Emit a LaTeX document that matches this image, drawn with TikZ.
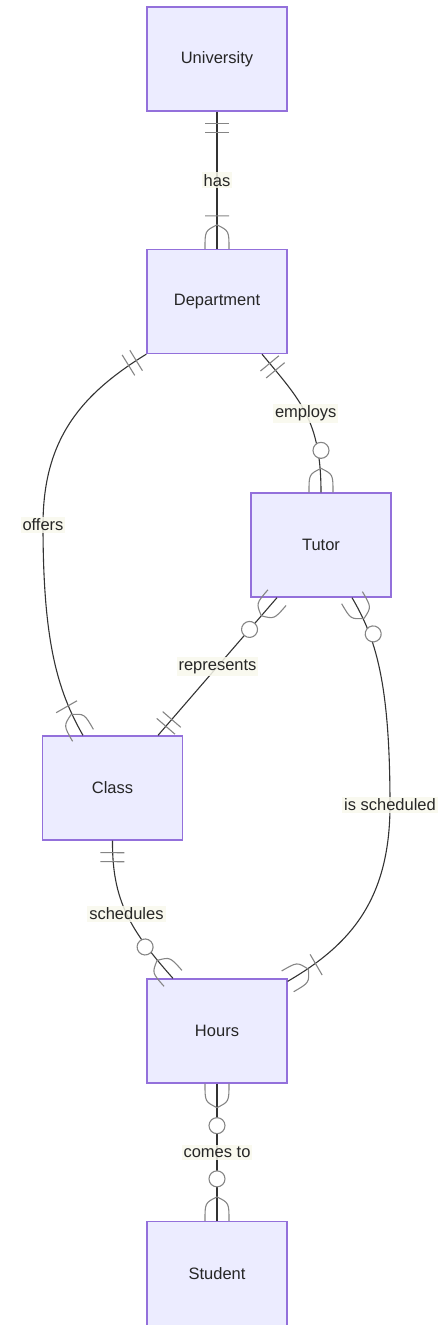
\documentclass[tikz,border=0pt]{standalone}
\usepackage{fontspec}
\setmainfont{Liberation Sans}
\usetikzlibrary{decorations.markings}
\definecolor{entityfill}{HTML}{ECECFF}
\definecolor{entityline}{HTML}{9370DB}
\definecolor{relline}{HTML}{333333}
\definecolor{markline}{HTML}{858585}
\definecolor{lblfill}{HTML}{F8F8EC}
\begin{document}
\begin{tikzpicture}[x=1pt,y=-1pt]
		\tikzstyle{Entity} = [rectangle, minimum width=140pt, minimum height=104pt, text centered, draw=entityline, line width=1.3pt, fill=entityfill, text=black!85, font=\fontsize{16.5}{20}\selectfont]
		\tikzstyle{Label} = [fill=lblfill, fill opacity=0.85, text opacity=1, inner sep=2pt, text=black!85, font=\fontsize{16.5}{20}\selectfont]
		\tikzstyle{rel} = [line width=1.1pt, draw=relline]
		\tikzstyle{Marker} = [line width=1.1pt, draw=markline]
		\tikzstyle{oneOnlyStart} = [postaction={decorate, decoration={markings, mark=at position 0 with {\draw[Marker] (12,-12) -- (12,12) (21,-12) -- (21,12);}}}]
		\tikzstyle{oneOnlyEnd} = [postaction={decorate, decoration={markings, mark=at position 1 with {\draw[Marker] (-12,-12) -- (-12,12) (-21,-12) -- (-21,12);}}}]
		\tikzstyle{oneManyEnd} = [postaction={decorate, decoration={markings, mark=at position 1 with {\draw[Marker] (-33,-12) -- (-33,12) (-24,0) .. controls (-18,-12) .. (0,-12) (-24,0) .. controls (-18,12) .. (0,12);}}}]
		\tikzstyle{zeroManyStart} = [postaction={decorate, decoration={markings, mark=at position 0 with {\draw[Marker] (24,0) .. controls (18,-12) .. (0,-12) (24,0) .. controls (18,12) .. (0,12); \draw[Marker, fill=white] (42,0) circle[radius=8pt];}}}]
		\tikzstyle{zeroManyEnd} = [postaction={decorate, decoration={markings, mark=at position 1 with {\draw[Marker] (-24,0) .. controls (-18,-12) .. (0,-12) (-24,0) .. controls (-18,12) .. (0,12); \draw[Marker, fill=white] (-42,0) circle[radius=8pt];}}}]
		
		\useasboundingbox (0,0) rectangle (444,1325);
		\node (univ) [Entity] at (217,59) {University};
		\node (dept) [Entity] at (217,301.5) {Department};
		\node (tutor) [Entity] at (321,545) {Tutor};
		\node (class) [Entity] at (112.5,788) {Class};
		\node (hours) [Entity] at (217,1031) {Hours};
		\node (student) [Entity] at (217,1273.5) {Student};
		\draw [rel, oneOnlyStart, oneManyEnd] (univ) -- node[Label] {has} (dept);
		\draw [rel, oneOnlyStart, oneManyEnd] (dept.south west) .. controls (80,395) and (43,440) .. (43,525) node[Label] {offers} .. controls (43,640) and (57,690) .. ([xshift=-29.5pt]class.north);
		\draw [rel, oneOnlyStart, zeroManyEnd] ([xshift=45pt]dept.south) .. controls (300,400) and (321,420) .. node[Label] {employs} (tutor.north);
		\draw [rel, zeroManyStart, oneOnlyEnd] ([xshift=-44pt]tutor.south) -- node[Label] {represents} ([xshift=45.5pt]class.north);
		\draw [rel, zeroManyStart, oneManyEnd] ([xshift=31pt]tutor.south) .. controls (375,637) and (390,680) .. (390,805) node[Label] {is scheduled} .. controls (390,900) and (350,945) .. ([yshift=-3pt]hours.north east);
		\draw [rel, oneOnlyStart, zeroManyEnd] (class.south) .. controls (112,900) and (130,930) .. node[Label] {schedules} ([xshift=-44pt]hours.north);
		\draw [rel, zeroManyStart, zeroManyEnd] (hours) -- node[Label] {comes to} (student);
\end{tikzpicture}
\end{document}
